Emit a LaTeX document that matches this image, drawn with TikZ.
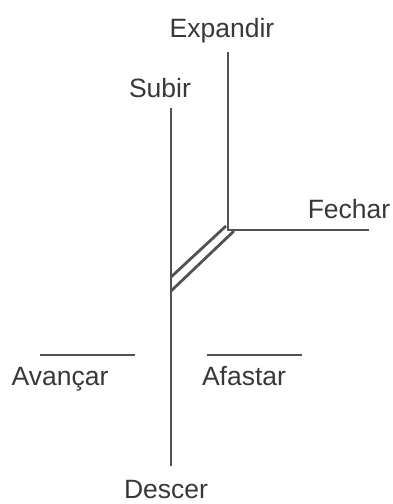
\documentclass[tikz,border=0pt]{standalone}
\usepackage{fontspec}
\setmainfont{Liberation Sans}
\usepackage{tikz}
\usetikzlibrary{positioning}
\tikzset{
  % Label and stroke styles
  word/.style={font=\fontsize{26.5}{30}\selectfont, text=black!78, inner sep=0pt, anchor=base},
  stroke/.style={line width=2.8pt, draw=black!68},
}

\begin{document}
\begin{tikzpicture}[x=1pt, y=-1pt]
    \useasboundingbox (0,0) rectangle (393,504);

    % Labels
    \node[word] (expandir) at (222,37) {Expandir};
    \node[word] (subir) at (160,97) {Subir};
    \node[word] (fechar) at (349,218) {Fechar};
    \node[word] (avancar) at (60,385) {Avançar};
    \node[word] (afastar) at (244,385) {Afastar};
    \node[word] (descer) at (166,498) {Descer};

    % Line ends
    \coordinate (subtop) at (171,108);
    \coordinate (subbot) at (171,466);
    \coordinate (exptop) at (228,52);
    \coordinate (knee) at (228,230);
    \coordinate (fecend) at (369,230);
    \coordinate (up1) at (171,277);
    \coordinate (up2) at (226,226);
    \coordinate (lo1) at (171,291);
    \coordinate (lo2) at (234,231);
    \coordinate (ava1) at (40,355);
    \coordinate (ava2) at (135,355);
    \coordinate (afa1) at (207,355);
    \coordinate (afa2) at (302,355);

    % Lines
    \draw[stroke] (subtop) -- (subbot);
    \draw[stroke] (exptop) -- (knee) -- (fecend);
    \draw[stroke] (up1) -- (up2);
    \draw[stroke] (lo1) -- (lo2);
    \draw[stroke] (ava1) -- (ava2);
    \draw[stroke] (afa1) -- (afa2);
  \end{tikzpicture}
\end{document}
